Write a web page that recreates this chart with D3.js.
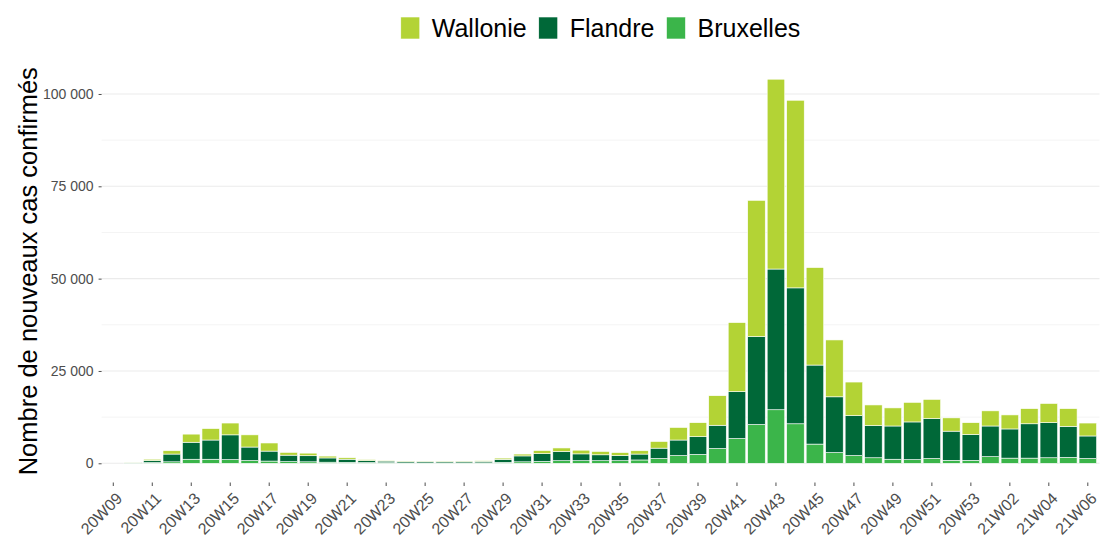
<!DOCTYPE html>
<html>
<head>
<meta charset="utf-8">
<script src="https://cdn.jsdelivr.net/npm/d3@7"></script>
<style>
  body { margin: 0; background: #fff; }
  svg { font-family: "Liberation Sans", Arial, sans-serif; }
</style>
</head>
<body>
<svg id="chart"></svg>
<script>
// weekly new confirmed cases by region
const weeks = ["20W09","20W10","20W11","20W12","20W13","20W14","20W15","20W16","20W17","20W18",
  "20W19","20W20","20W21","20W22","20W23","20W24","20W25","20W26","20W27","20W28",
  "20W29","20W30","20W31","20W32","20W33","20W34","20W35","20W36","20W37","20W38",
  "20W39","20W40","20W41","20W42","20W43","20W44","20W45","20W46","20W47","20W48",
  "20W49","20W50","20W51","20W52","20W53","21W01","21W02","21W03","21W04","21W05","21W06"];

const bruxelles = [0, 60, 200, 400, 1100, 1100, 1000, 750, 600, 450,
  400, 300, 250, 200, 150, 100, 100, 110, 110, 120,
  250, 400, 500, 700, 700, 700, 700, 900, 1300, 2100,
  2400, 4000, 6700, 10500, 14500, 10700, 5200, 2900, 2100, 1500,
  1100, 1000, 1300, 800, 800, 1800, 1400, 1400, 1500, 1600, 1300];

const flandre = [0, 150, 550, 2100, 4600, 5200, 6700, 3650, 2700, 1750,
  1650, 1150, 850, 550, 450, 380, 350, 330, 380, 430,
  800, 1600, 2100, 2500, 1850, 1600, 1400, 1600, 2800, 4200,
  4800, 6300, 12700, 23800, 38100, 36800, 21400, 15100, 10800, 8700,
  9000, 10200, 10800, 7900, 7000, 8300, 7900, 9300, 9500, 8400, 6100];

const wallonie = [0, 40, 350, 900, 2200, 3100, 3200, 3300, 2200, 750,
  700, 500, 400, 250, 200, 120, 100, 110, 110, 130,
  350, 500, 850, 950, 1000, 900, 800, 900, 1800, 3400,
  3800, 8000, 18700, 36900, 51400, 50800, 26400, 15400, 9100, 5600,
  4900, 5300, 5200, 3600, 3200, 4100, 3800, 4100, 5200, 4800, 3500];

const tickLabels = weeks.filter((w, i) => i % 2 === 0);
const yTicks = [0, 25000, 50000, 75000, 100000];
const yMinor = [12500, 37500, 62500, 87500];

const regions = ["Wallonie", "Flandre", "Bruxelles"];
const colors = { "Wallonie": "#b3d335", "Flandre": "#006838", "Bruxelles": "#3bb54a" };

const width = 1101, height = 542;
const margin = { top: 60, right: 1.5, bottom: 59.5, left: 101.6 };

const svg = d3.select("#chart")
    .attr("width", width)
    .attr("height", height);

const data = weeks.map((w, i) => ({ week: w, Bruxelles: bruxelles[i], Flandre: flandre[i], Wallonie: wallonie[i] }));

// stack bottom to top: Bruxelles, Flandre, Wallonie
const stack = d3.stack().keys(["Bruxelles", "Flandre", "Wallonie"]);
const series = stack(data);

const maxTotal = d3.max(series[series.length - 1], d => d[1]);
const pad = maxTotal * 0.05;

const x = d3.scaleBand()
    .domain(weeks)
    .range([margin.left, width - margin.right])
    .paddingInner(0.1)
    .paddingOuter(0.15);

const y = d3.scaleLinear()
    .domain([-pad, maxTotal + pad])
    .range([height - margin.bottom, margin.top]);

const fmt = d3.formatLocale({ decimal: ",", thousands: " ", grouping: [3], currency: ["", " €"] }).format(",d");

// grid
svg.append("g")
    .selectAll("line")
    .data(yMinor)
    .join("line")
    .attr("x1", margin.left).attr("x2", width - margin.right)
    .attr("y1", d => y(d)).attr("y2", d => y(d))
    .attr("stroke", "#f4f4f4")
    .attr("stroke-width", 1);

svg.append("g")
    .selectAll("line")
    .data(yTicks)
    .join("line")
    .attr("x1", margin.left).attr("x2", width - margin.right)
    .attr("y1", d => y(d)).attr("y2", d => y(d))
    .attr("stroke", "#ebebeb")
    .attr("stroke-width", 1.1);

// bars
svg.append("g")
    .selectAll("g")
    .data(series)
    .join("g")
    .attr("fill", d => colors[d.key])
    .selectAll("rect")
    .data(d => d)
    .join("rect")
    .attr("x", d => x(d.data.week))
    .attr("y", d => y(d[1]))
    .attr("width", x.bandwidth())
    .attr("height", d => Math.max(0, y(d[0]) - y(d[1])))
    .attr("stroke", "#fff")
    .attr("stroke-width", 0.6);

// y axis
const yAxis = svg.append("g")
    .attr("transform", `translate(${margin.left},0)`)
    .call(d3.axisLeft(y).tickValues(yTicks).tickFormat(fmt).tickSize(3).tickPadding(5));
yAxis.select(".domain").remove();
yAxis.selectAll(".tick line").attr("stroke", "#4d4d4d");
yAxis.selectAll("text")
    .attr("fill", "#4d4d4d")
    .style("font-size", "14px");

// x axis
const xAxis = svg.append("g")
    .attr("transform", `translate(0,${height - margin.bottom})`)
    .call(d3.axisBottom(x).tickValues(tickLabels).tickSize(3.5).tickPadding(2));
xAxis.select(".domain").remove();
xAxis.selectAll(".tick line").attr("stroke", "#4d4d4d");
xAxis.selectAll("text")
    .attr("fill", "#4d4d4d")
    .style("font-size", "16px")
    .attr("text-anchor", "end")
    .attr("dy", "0.72em")
    .attr("transform", "translate(-2,5) rotate(-45)");

// y title
svg.append("text")
    .attr("transform", `translate(37,${(margin.top + height - margin.bottom) / 2}) rotate(-90)`)
    .attr("text-anchor", "middle")
    .style("font-size", "25.5px")
    .attr("fill", "#000")
    .text("Nombre de nouveaux cas confirmés");

// legend, centred over the panel
const legend = svg.append("g");
const keyW = 19, keyH = 22, gapText = 12, gapItem = 12;
let cx = 0;
regions.forEach(r => {
    const g = legend.append("g").attr("transform", `translate(${cx},0)`);
    g.append("rect")
        .attr("x", 0).attr("y", 17)
        .attr("width", keyW).attr("height", keyH)
        .attr("fill", colors[r])
        .attr("stroke", "#fff").attr("stroke-width", 0.6);
    const t = g.append("text")
        .attr("x", keyW + gapText)
        .attr("y", 37)
        .style("font-size", "25px")
        .attr("fill", "#000")
        .text(r);
    cx += keyW + gapText + t.node().getComputedTextLength() + gapItem;
});
const legW = cx - gapItem;
legend.attr("transform", `translate(${(margin.left + width - margin.right) / 2 - legW / 2},0)`);
</script>
</body>
</html>
